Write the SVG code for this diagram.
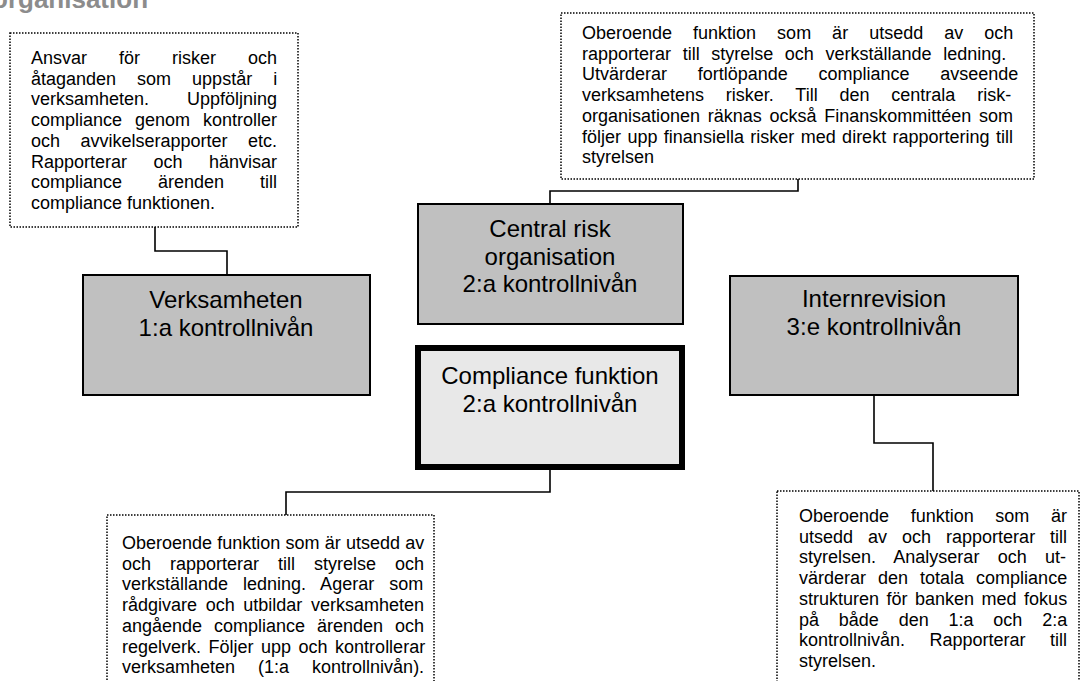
<svg xmlns="http://www.w3.org/2000/svg" width="1082" height="681" viewBox="0 0 1082 681">
<style>
.note{fill:#fff;stroke:#000;stroke-width:1.5;stroke-dasharray:1.5 1.5}
.node{fill:#c0c0c0;stroke:#000;stroke-width:2}
.comp{fill:#e8e8e8;stroke:#000;stroke-width:6}
.t{font-family:"Liberation Sans",Arial,sans-serif;font-size:18px;fill:#000}
.n{font-family:"Liberation Sans",Arial,sans-serif;font-size:24px;fill:#000;text-anchor:middle}
.conn{fill:none;stroke:#000;stroke-width:1.6}
</style>
<rect width="1082" height="681" fill="#fff"/>
<text x="-8" y="8" font-family="'Liberation Sans',Arial,sans-serif" font-size="26" font-weight="bold" fill="#8c8c8c">organisation</text>
<g id="connectors">
<path class="conn" d="M155,227 V251 H227 V274"/>
<path class="conn" d="M798,179 V191 H550 V203"/>
<path class="conn" d="M550,470 V492 H286 V515"/>
<path class="conn" d="M874,395 V443 H933 V491"/>
</g>
<g id="note-verksamheten">
<rect class="note" x="10" y="33" width="288" height="194"/>
<text class="t" x="31" y="64" style="word-spacing:27px">Ansvar för risker och</text>
<text class="t" x="31" y="84.7" style="word-spacing:16px">åtaganden som uppstår i</text>
<text class="t" x="31" y="105.4" style="word-spacing:32.9px">verksamheten. Uppföljning</text>
<text class="t" x="31" y="126.1" style="word-spacing:8px">compliance genom kontroller</text>
<text class="t" x="31" y="146.8" style="word-spacing:15.5px">och avvikelserapporter etc.</text>
<text class="t" x="31" y="167.5" style="word-spacing:21.5px">Rapporterar och hänvisar</text>
<text class="t" x="31" y="188.2" style="word-spacing:31px">compliance ärenden till</text>
<text class="t" x="31" y="208.9">compliance funktionen.</text>
</g>
<g id="note-central">
<rect class="note" x="561" y="13" width="473" height="166"/>
<text class="t" x="582" y="39" style="word-spacing:16px">Oberoende funktion som är utsedd av och</text>
<text class="t" x="582" y="59.7" style="word-spacing:6.6px">rapporterar till styrelse och verkställande ledning.</text>
<text class="t" x="582" y="80.4" style="word-spacing:25.7px">Utvärderar fortlöpande compliance avseende</text>
<text class="t" x="582" y="101.1" style="word-spacing:16.8px">verksamhetens risker. Till den centrala risk-</text>
<text class="t" x="582" y="121.8" style="word-spacing:2.7px">organisationen räknas också Finanskommittéen som</text>
<text class="t" x="582" y="142.5" style="word-spacing:1.4px">följer upp finansiella risker med direkt rapportering till</text>
<text class="t" x="582" y="163.2">styrelsen</text>
</g>
<g id="node-verksamheten">
<rect class="node" x="83" y="275" width="287" height="120"/>
<text class="n" x="226" y="308">Verksamheten</text>
<text class="n" x="226" y="336">1:a kontrollnivån</text>
</g>
<g id="node-central">
<rect class="node" x="418" y="204" width="265" height="120"/>
<text class="n" x="550" y="237">Central risk</text>
<text class="n" x="550" y="264.6">organisation</text>
<text class="n" x="550" y="292.2">2:a kontrollnivån</text>
</g>
<g id="node-compliance">
<rect class="comp" x="418" y="348" width="264" height="119"/>
<text class="n" x="550" y="384">Compliance funktion</text>
<text class="n" x="550" y="412">2:a kontrollnivån</text>
</g>
<g id="node-internrevision">
<rect class="node" x="730" y="276" width="288" height="119"/>
<text class="n" x="874" y="307">Internrevision</text>
<text class="n" x="874" y="335">3:e kontrollnivån</text>
</g>
<g id="note-compliance">
<rect class="note" x="107" y="515" width="327" height="180"/>
<text class="t" x="122" y="549" style="word-spacing:0.2px">Oberoende funktion som är utsedd av</text>
<text class="t" x="122" y="569.7" style="word-spacing:14px">och rapporterar till styrelse och</text>
<text class="t" x="122" y="590.4" style="word-spacing:10px">verkställande ledning. Agerar som</text>
<text class="t" x="122" y="611.1" style="word-spacing:3.6px">rådgivare och utbildar verksamheten</text>
<text class="t" x="122" y="631.8" style="word-spacing:6.9px">angående compliance ärenden och</text>
<text class="t" x="122" y="652.5" style="word-spacing:2.5px">regelverk. Följer upp och kontrollerar</text>
<text class="t" x="122" y="673.2" style="word-spacing:18px">verksamheten (1:a kontrollnivån).</text>
</g>
<g id="note-internrevision">
<rect class="note" x="777" y="491" width="302" height="200"/>
<text class="t" x="799" y="522" style="word-spacing:16.6px">Oberoende funktion som är</text>
<text class="t" x="799" y="542.7" style="word-spacing:10px">utsedd av och rapporterar till</text>
<text class="t" x="799" y="563.4" style="word-spacing:13.3px">styrelsen. Analyserar och ut-</text>
<text class="t" x="799" y="584.1" style="word-spacing:7px">värderar den totala compliance</text>
<text class="t" x="799" y="604.8" style="word-spacing:2.5px">strukturen för banken med fokus</text>
<text class="t" x="799" y="625.5" style="word-spacing:14.8px">på både den 1:a och 2:a</text>
<text class="t" x="799" y="646.2" style="word-spacing:19.5px">kontrollnivån. Rapporterar till</text>
<text class="t" x="799" y="666.9">styrelsen.</text>
</g>
</svg>
